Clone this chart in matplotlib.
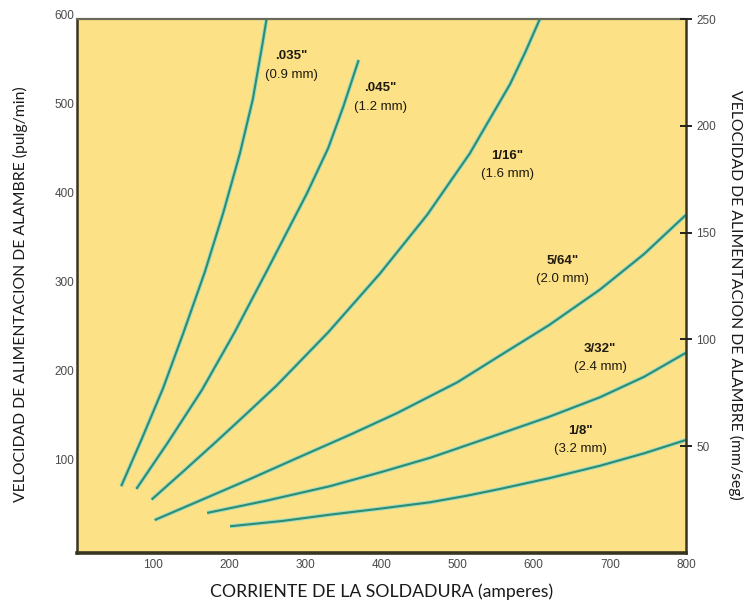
import matplotlib
matplotlib.use("Agg")
import matplotlib.pyplot as plt
import matplotlib.patheffects as pe

TICK_SIZE = 8.5
LABEL_SIZE = 12.7
SIDE_LABEL_SIZE = 11.3
CURVE_TXT_SIZE = 9.5

BG_COLOR = "#fde186"
LINE_COLOR = "#2f8c6c"
HALO_COLOR = "#9fdcc6"
SPINE_COLOR = "#3a3520"

# ------------------------------------------------------------------------------------------------------------- #
# Data: welding current (A) vs wire feed speed (in/min)
# ------------------------------------------------------------------------------------------------------------- #
amps_035 = [58, 85, 113, 140, 168, 192, 214, 231, 244, 249]
ipm_035 = [75, 128, 185, 248, 316, 382, 449, 510, 574, 600]

amps_045 = [78, 120, 164, 207, 250, 302, 330, 350, 370]
ipm_045 = [72, 125, 183, 248, 318, 404, 455, 502, 554]

amps_116 = [98, 140, 184, 222, 262, 330, 398, 460, 516, 569, 589, 608]
ipm_116 = [60, 92, 126, 156, 188, 248, 314, 380, 449, 527, 563, 600]

amps_564 = [102, 170, 227, 290, 359, 420, 500, 556, 620, 687, 745, 800]
ipm_564 = [37, 62, 83, 107, 133, 157, 192, 222, 256, 296, 336, 380]

amps_332 = [171, 250, 332, 400, 464, 556, 620, 687, 745, 800]
ipm_332 = [45, 59, 75, 91, 107, 134, 153, 175, 198, 225]

amps_18 = [201, 270, 332, 400, 464, 510, 556, 620, 687, 745, 800]
ipm_18 = [30, 36, 43, 50, 57, 64, 72, 84, 98, 112, 127]

wire_in = ['.035"', '.045"', '1/16"', '5/64"', '3/32"', '1/8"']
wire_mm = ["(0.9 mm)", "(1.2 mm)", "(1.6 mm)", "(2.0 mm)", "(2.4 mm)", "(3.2 mm)"]

x_ticks = [100, 200, 300, 400, 500, 600, 700, 800]
y_ticks_ipm = [100, 200, 300, 400, 500, 600]
y_ticks_mms = [50, 100, 150, 200, 250]

# label anchor (data coords) for each wire size, layout only
label_pos = [(282, 558), (399, 522), (565, 446), (638, 328), (687, 229), (662, 137)]

curves = [(amps_035, ipm_035), (amps_045, ipm_045), (amps_116, ipm_116),
          (amps_564, ipm_564), (amps_332, ipm_332), (amps_18, ipm_18)]

fig = plt.figure(figsize=(7.44, 6.06), dpi=100)
ax = fig.add_axes([0.1035, 0.0875, 0.8185, 0.881])
ax.set_facecolor(BG_COLOR)
ax.set_xlim(0, 800)
ax.set_ylim(0, 600)

for amps, ipm in curves:
    ax.plot(amps, ipm, color=LINE_COLOR, linewidth=1.5, solid_capstyle="butt", solid_joinstyle="round",
            path_effects=[pe.Stroke(linewidth=3.0, foreground=HALO_COLOR), pe.Normal()])

for (lx, ly), s_in, s_mm in zip(label_pos, wire_in, wire_mm):
    ax.text(lx, ly, s_in, fontsize=CURVE_TXT_SIZE, fontweight="bold", ha="center", va="center",
            family="Liberation Sans", color="#1e1a10")
    ax.annotate(s_mm, (lx, ly), xytext=(0, -13), textcoords="offset points", fontsize=CURVE_TXT_SIZE,
                ha="center", va="center", family="Liberation Sans", color="#1e1a10")

ax.set_xticks(x_ticks)
ax.set_yticks(y_ticks_ipm)
ax.tick_params(axis="both", length=0, labelsize=TICK_SIZE, labelcolor="#4a4a4a", pad=4)
for lbl in ax.get_xticklabels() + ax.get_yticklabels():
    lbl.set_family("Liberation Sans")
for lbl in ax.get_yticklabels():
    lbl.set_va("baseline")
ax.tick_params(axis="y", pad=2)

for axis in ["left", "bottom", "right"]:
    ax.spines[axis].set_color(SPINE_COLOR)
    ax.spines[axis].set_linewidth(1.8)
ax.spines["bottom"].set_linewidth(2.6)
ax.spines["top"].set_color("#6a6a5a")
ax.spines["top"].set_linewidth(1.6)

ax2 = ax.twinx()
ax2.set_ylim(0, 250)
ax2.set_yticks(y_ticks_mms)
ax2.tick_params(axis="y", direction="inout", length=9, width=1.4, color="#222222",
                labelsize=TICK_SIZE, labelcolor="#4a4a4a", pad=3)
for lbl in ax2.get_yticklabels():
    lbl.set_family("Liberation Sans")
for sp in ax2.spines.values():
    sp.set_visible(False)

ax.set_xlabel("CORRIENTE DE LA SOLDADURA (amperes)", fontsize=LABEL_SIZE, family="Lato",
              color="#1a1a1a", labelpad=9)
fig.text(0.028, 0.515, "VELOCIDAD DE ALIMENTACION DE ALAMBRE (pulg/min)", rotation=90,
         fontsize=SIDE_LABEL_SIZE, family="Lato", color="#1a1a1a", ha="center", va="center")
fig.text(0.988, 0.513, "VELOCIDAD DE ALIMENTACION DE ALAMBRE (mm/seg)", rotation=-90,
         fontsize=SIDE_LABEL_SIZE, family="Lato", color="#1a1a1a", ha="center", va="center")

fig.savefig("out.png", dpi=100)
